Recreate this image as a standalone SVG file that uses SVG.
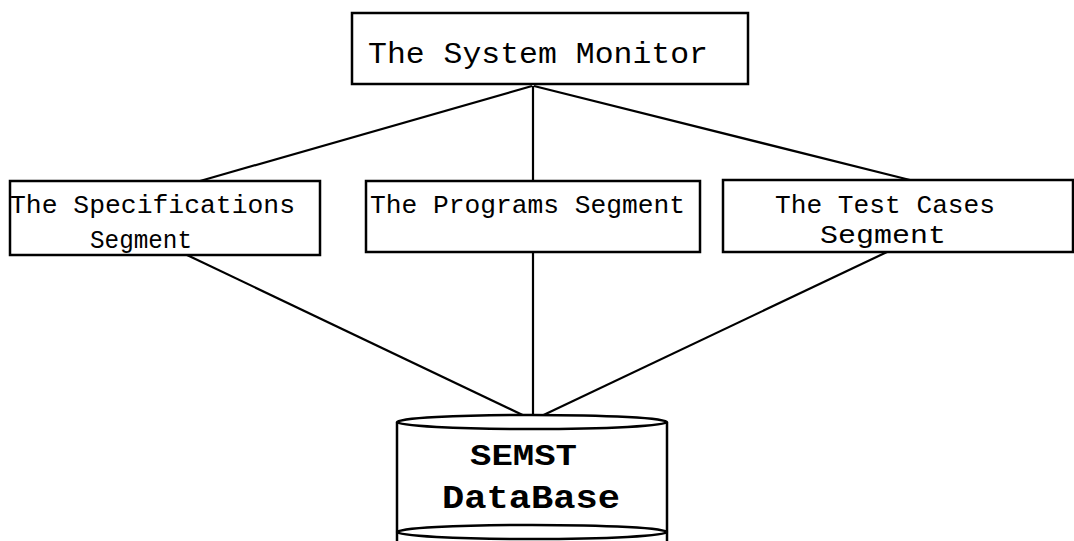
<svg xmlns="http://www.w3.org/2000/svg" width="1074" height="541" viewBox="0 0 1074 541">
<style>
.box{fill:#fff;stroke:#000;stroke-width:2.5}
.t{font-family:"Liberation Mono","Courier New",monospace;fill:#000}
.b{font-family:"Liberation Mono","Courier New",monospace;font-weight:bold;fill:#000}
.c{stroke:#000;stroke-width:2.2;fill:none}
</style>
<rect width="1074" height="541" fill="#fff"/>
<g id="connectors">
<line class="c" x1="532" y1="86" x2="200" y2="181"/>
<line class="c" x1="533" y1="86" x2="533" y2="181"/>
<line class="c" x1="534" y1="86" x2="910" y2="180"/>
<line class="c" x1="187" y1="255" x2="533" y2="420"/>
<line class="c" x1="533" y1="252" x2="533" y2="420"/>
<line class="c" x1="887" y1="252" x2="533" y2="420"/>
</g>
<g id="monitor">
<rect class="box" x="352" y="13" width="396" height="71"/>
<text class="t" x="368" y="63" font-size="30" textLength="340" lengthAdjust="spacingAndGlyphs">The System Monitor</text>
</g>
<g id="specs">
<rect class="box" x="10" y="181" width="310" height="74"/>
<text class="t" x="10" y="213" font-size="25" textLength="285" lengthAdjust="spacingAndGlyphs">The Specifications</text>
<text class="t" x="90" y="248" font-size="25" textLength="102" lengthAdjust="spacingAndGlyphs">Segment</text>
</g>
<g id="programs">
<rect class="box" x="366" y="181" width="334" height="71"/>
<text class="t" x="370" y="213" font-size="26" textLength="315" lengthAdjust="spacingAndGlyphs">The Programs Segment</text>
</g>
<g id="tests">
<rect class="box" x="723" y="180" width="350" height="72"/>
<text class="t" x="775" y="213" font-size="26" textLength="220" lengthAdjust="spacingAndGlyphs">The Test Cases</text>
<text class="t" x="820" y="243" font-size="26" textLength="126" lengthAdjust="spacingAndGlyphs">Segment</text>
</g>
<g id="database">
<path d="M397 422 V541 M667 422 V541" stroke="#000" stroke-width="2.5" fill="none"/>
<ellipse cx="532" cy="422" rx="135" ry="7" fill="#fff" stroke="#000" stroke-width="2.5"/>
<ellipse cx="532" cy="532" rx="135" ry="7" fill="#fff" stroke="#000" stroke-width="2.5"/>
<text class="b" x="470" y="465" font-size="30" textLength="107" lengthAdjust="spacingAndGlyphs">SEMST</text>
<text class="b" x="442" y="508" font-size="33" textLength="178" lengthAdjust="spacingAndGlyphs">DataBase</text>
</g>
</svg>
